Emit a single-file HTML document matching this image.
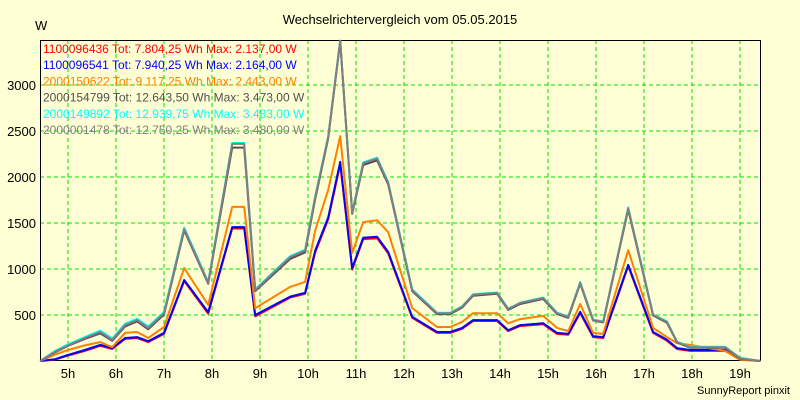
<!DOCTYPE html>
<html><head><meta charset="utf-8"><style>
body{margin:0;background:#ffffd5;}
svg{display:block;font-family:"Liberation Sans",sans-serif;}
</style></head><body>
<svg id="chart" width="800" height="400" xmlns="http://www.w3.org/2000/svg">
<rect x="0" y="0" width="800" height="400" fill="#ffffd5"/>
<text x="400" y="24" text-anchor="middle" font-size="13" fill="#000">Wechselrichtervergleich vom 05.05.2015</text>
<text x="35" y="30" font-size="13" fill="#000">W</text>
<text x="790" y="394" text-anchor="end" font-size="11" fill="#000">SunnyReport pinxit</text>
<g id="grid"></g><g id="axes"></g><g id="series"></g><g id="legend"></g>
</svg>
<script>
const times=[4.42,4.73,5.0,5.35,5.67,5.92,6.19,6.44,6.67,7.0,7.42,7.92,8.42,8.67,8.9,9.63,9.94,10.15,10.42,10.67,10.92,11.15,11.44,11.67,12.17,12.69,12.96,13.21,13.44,13.94,14.17,14.42,14.9,15.19,15.42,15.67,15.94,16.15,16.67,17.19,17.48,17.69,17.96,18.69,19.0,19.42];
const redVals=[0,15,60,110,165,130,240,250,205,295,870,515,1440,1440,485,690,730,1180,1540,2137,995,1325,1335,1170,470,305,305,350,435,435,325,380,400,295,285,520,260,250,1030,305,220,130,110,110,15,0];
const blueVals=[0,20,65,120,175,140,250,260,215,305,880,530,1455,1455,500,700,740,1200,1560,2164,1010,1340,1350,1185,480,315,315,360,445,445,335,390,410,305,295,535,270,260,1045,315,230,140,120,120,20,0];
const orangeVals=[0,70,120,170,205,150,305,315,250,370,1010,610,1675,1675,575,805,860,1420,1860,2443,1175,1510,1530,1400,575,370,370,425,520,520,410,455,490,360,325,620,305,295,1205,360,260,195,175,110,15,0];
const darkVals=[0,95,165,240,300,220,375,430,345,505,1420,840,2320,2320,760,1110,1180,1760,2420,3473,1600,2130,2180,1920,760,510,510,580,710,730,555,620,675,510,470,840,440,420,1645,495,415,200,145,145,25,0];
const cyanVals=[0,110,180,260,330,245,405,460,375,535,1450,860,2370,2370,780,1140,1210,1790,2445,3483,1620,2160,2210,1945,780,525,525,595,725,745,570,635,690,525,485,860,450,430,1670,505,430,210,155,155,35,0];
const grayVals=[0,100,170,250,315,230,390,445,360,520,1435,850,2360,2360,770,1130,1200,1780,2435,3480,1610,2150,2200,1935,770,520,520,590,720,740,565,630,685,520,480,850,445,425,1660,500,425,205,150,150,30,0];
const yTicks=[500,1000,1500,2000,2500,3000];
const xTicks=[5,6,7,8,9,10,11,12,13,14,15,16,17,18,19];
const legendLabels=["1100096436 Tot: 7.804,25 Wh Max: 2.137,00 W","1100096541 Tot: 7.940,25 Wh Max: 2.164,00 W","2000150622 Tot: 9.117,25 Wh Max: 2.443,00 W","2000154799 Tot: 12.643,50 Wh Max: 3.473,00 W","2000149892 Tot: 12.939,75 Wh Max: 3.483,00 W","2000001478 Tot: 12.750,25 Wh Max: 3.480,00 W"];

const NS="http://www.w3.org/2000/svg";
const L=40,R=760,T=40,B=360;
function xs(t){return 68+(t-5)*48;}
function ys(v){return 361-v*0.092;}
function mk(tag,attrs,parent){const e=document.createElementNS(NS,tag);for(const k in attrs)e.setAttribute(k,attrs[k]);parent.appendChild(e);return e;}
const grid=document.getElementById('grid'),axes=document.getElementById('axes'),ser=document.getElementById('series'),leg=document.getElementById('legend');
yTicks.forEach(v=>{
  const l=mk('line',{x1:L,x2:R,y1:ys(v),y2:ys(v),stroke:'#00e000','stroke-dasharray':'4,3','stroke-width':1},grid);
  
  
  const t=mk('text',{x:L-4,y:ys(v)+5,'text-anchor':'end','font-size':13,fill:'#000'},axes);
  t.textContent=v;
  
  
});
xTicks.forEach(h=>{
  const l=mk('line',{x1:xs(h),x2:xs(h),y1:T,y2:B,stroke:'#00e000','stroke-dasharray':'4,3','stroke-width':1},grid);
  
  
  const t=mk('text',{x:xs(h),y:B+18,'text-anchor':'middle','font-size':13,fill:'#000'},axes);
  t.textContent=h+'h';
  
  
});
const frame=mk('path',{d:`M${L+0.5},${T+0.5}H${R+0.5}V${B+0.5}H${L+0.5}Z`,fill:'none',stroke:'#000','stroke-width':1},axes);


const seriesDefs=[[redVals,'#ff0000','series-1100096436'],[blueVals,'#0000ff','series-1100096541'],[orangeVals,'#ff8000','series-2000150622'],[cyanVals,'#00ffff','series-2000149892'],[darkVals,'#5a4a5a','series-2000154799'],[grayVals,'#808080','series-2000001478']];
seriesDefs.forEach(s=>{
  const pts=s[0].map((v,i)=>xs(times[i]).toFixed(1)+','+ys(v).toFixed(1)).join(' ');
  const p=mk('polyline',{points:pts,fill:'none',stroke:s[1],'stroke-width':2,'stroke-linejoin':'round'},ser);
  
  
});
const legColors=['#ff0000','#0000ff','#ff8000','#505050','#00ffff','#808080'];
legendLabels.forEach((lab,i)=>{
  const t=mk('text',{x:43,y:53+i*16.2,'font-size':12,fill:legColors[i]},leg);
  t.textContent=lab;
  
  
});
</script>
</body></html>
